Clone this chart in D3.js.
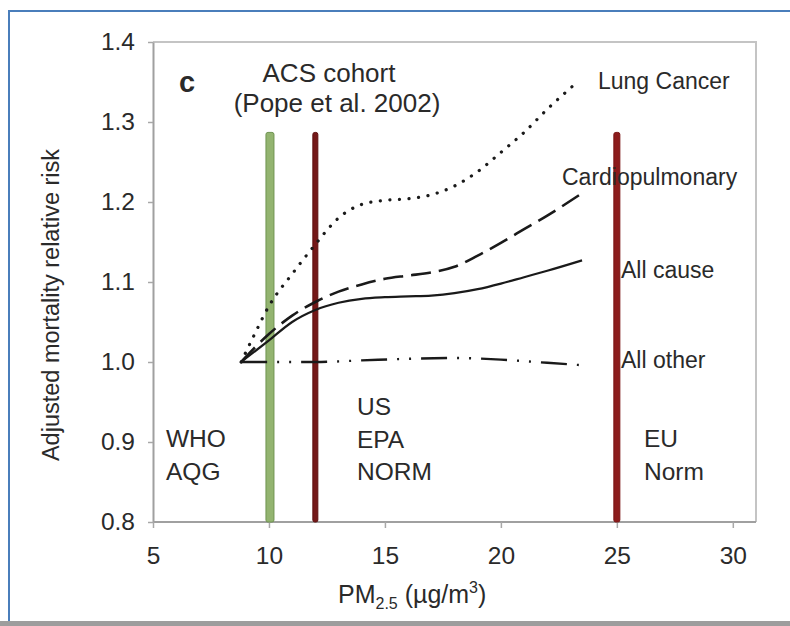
<!DOCTYPE html>
<html>
<head>
<meta charset="utf-8">
<script src="https://cdn.jsdelivr.net/npm/d3@7"></script>
<style>
  html, body { margin: 0; padding: 0; background: #fff; }
  svg { display: block; font-family: "Liberation Sans", Arial, sans-serif; }
</style>
</head>
<body>
<svg id="chart" width="790" height="626"></svg>
<script>
// ---------- data ----------
const xTicks = [5, 10, 15, 20, 25, 30];
const yTicks = [0.8, 0.9, 1.0, 1.1, 1.2, 1.3, 1.4];

const lungCancer = [[8.8,1.0],[9.3,1.03],[10,1.07],[11,1.11],[12,1.147],[13,1.18],[14,1.197],[15,1.202],[16,1.204],[17,1.209],[18,1.22],[19,1.238],[20,1.262],[21,1.287],[22,1.316],[23.3,1.35]];
const cardiopulmonary = [[8.8,1.0],[10,1.035],[11,1.058],[12,1.075],[13,1.088],[14,1.097],[15,1.104],[16,1.108],[17,1.112],[18,1.119],[19,1.133],[20,1.149],[21,1.166],[22,1.183],[23.5,1.211]];
const allCause = [[8.8,1.0],[10,1.027],[11,1.05],[12,1.065],[13,1.074],[14,1.079],[15,1.081],[16,1.082],[17,1.083],[18,1.086],[19,1.091],[20,1.098],[21,1.106],[22,1.114],[23.5,1.127]];
const allOther = [[8.8,1.0],[12,1.0],[14,1.002],[16,1.004],[18,1.005],[20,1.003],[22,0.999],[23.5,0.996]];

const seriesNames = ["Lung Cancer", "Cardiopulmonary", "All cause", "All other"];

// guideline values (PM2.5 limits)
const limitValues = [10, 12, 25];
const limitNames = [["WHO", "AQG"], ["US", "EPA", "NORM"], ["EU", "Norm"]];
const limitTop = 1.287;

// ---------- layout ----------
const svg = d3.select("#chart");
const x = d3.scaleLinear().domain([5, 31]).range([153, 756]);
const y = d3.scaleLinear().domain([0.8, 1.4]).range([522, 42]);
const ink = "#2a2a2a";

// outer frame
svg.append("line").attr("x1", 8).attr("x2", 790).attr("y1", 11).attr("y2", 11)
  .attr("stroke", "#4a7ebb").attr("stroke-width", 2);
svg.append("line").attr("x1", 9).attr("x2", 9).attr("y1", 10).attr("y2", 622)
  .attr("stroke", "#4a7ebb").attr("stroke-width", 2);
svg.append("rect").attr("x", 0).attr("y", 621).attr("width", 790).attr("height", 5)
  .attr("fill", "#9d9d9d");

// plot border (top/right)
svg.append("path")
  .attr("d", `M${x(5)},${y(1.4)}H${x(31)}V${y(0.8)}`)
  .attr("fill", "none").attr("stroke", "#c4c4c4").attr("stroke-width", 2);

// axes
const yAxis = d3.axisLeft(y).tickValues(yTicks).tickFormat(d3.format(".1f")).tickSize(5).tickSizeOuter(0);
const xAxis = d3.axisBottom(x).tickValues(xTicks).tickFormat(d3.format("d")).tickSize(6).tickSizeOuter(0);

const gy = svg.append("g").attr("transform", `translate(${x(5)},0)`).call(yAxis);
const gx = svg.append("g").attr("transform", `translate(0,${y(0.8)})`).call(xAxis);
[gx, gy].forEach(g => {
  g.select(".domain").attr("stroke", "#a0a0a0").attr("stroke-width", 2);
  g.selectAll(".tick line").attr("stroke", "#a8a8a8").attr("stroke-width", 1.5);
  g.selectAll(".tick text").attr("fill", ink).attr("font-size", 24.5)
    .attr("font-family", "Liberation Sans, Arial, sans-serif");
});
gy.selectAll(".tick text").attr("x", -18);
gx.selectAll(".tick text").attr("y", 25);
gx.select(".domain").attr("d", `M${x(5)},0H${x(31)}`);

// axis titles
svg.append("text")
  .attr("transform", `translate(59,305) rotate(-90)`)
  .attr("text-anchor", "middle").attr("font-size", 23.5).attr("fill", ink)
  .text("Adjusted mortality relative risk");

const xt = svg.append("text").attr("x", 338).attr("y", 603)
  .attr("font-size", 25).attr("fill", ink);
xt.append("tspan").text("PM");
xt.append("tspan").attr("font-size", 16).attr("dy", 6).text("2.5");
xt.append("tspan").attr("dy", -6).text(" (\u00B5g/m");
xt.append("tspan").attr("font-size", 16).attr("dy", -10).text("3");
xt.append("tspan").attr("dy", 10).text(")");

// limit bars
const barStyle = [
  { fill: "#93b470", stroke: "#6e9350", w: 8 },
  { fill: "#741818", stroke: "#5e1010", w: 5 },
  { fill: "#8c1c1c", stroke: "#7a1414", w: 6 }
];
svg.append("g").selectAll("rect").data(limitValues).join("rect")
  .attr("x", (d, i) => x(d) - barStyle[i].w / 2 + (i === 0 ? 1 : 0))
  .attr("y", y(limitTop))
  .attr("width", (d, i) => barStyle[i].w)
  .attr("height", y(0.8) - y(limitTop))
  .attr("rx", 2)
  .attr("fill", (d, i) => barStyle[i].fill)
  .attr("stroke", (d, i) => barStyle[i].stroke)
  .attr("stroke-width", 1);

// curves
const line = d3.line().x(d => x(d[0])).y(d => y(d[1])).curve(d3.curveMonotoneX);
const curves = [
  { data: lungCancer, dash: "0.1,9.5", width: 3.2, cap: "round" },
  { data: cardiopulmonary, dash: "20,8", width: 2.6, cap: "butt" },
  { data: allCause, dash: null, width: 2.2, cap: "butt" },
  { data: allOther, dash: "26,10,2,10,2,10", width: 2.4, cap: "butt" }
];
svg.append("g").selectAll("path").data(curves).join("path")
  .attr("d", d => line(d.data))
  .attr("fill", "none")
  .attr("stroke", "#1a1a1a")
  .attr("stroke-width", d => d.width)
  .attr("stroke-linecap", d => d.cap)
  .attr("stroke-dasharray", d => d.dash);

// series labels
const labelPos = [[598, 89], [562, 185], [621, 278], [621, 368]];
svg.append("g").selectAll("text").data(seriesNames).join("text")
  .attr("x", (d, i) => labelPos[i][0]).attr("y", (d, i) => labelPos[i][1])
  .attr("font-size", 23).attr("fill", ink)
  .text(d => d);

// limit labels
const limitLabelPos = [[166, 447], [357, 415], [644, 447]];
limitNames.forEach((names, i) => {
  const t = svg.append("text").attr("x", limitLabelPos[i][0]).attr("y", limitLabelPos[i][1])
    .attr("font-size", 24.5).attr("fill", ink);
  names.forEach((n, j) => t.append("tspan").attr("x", limitLabelPos[i][0]).attr("dy", j === 0 ? 0 : 32.5).text(n));
});

// panel letter and title
svg.append("text").attr("x", 179).attr("y", 92).attr("font-size", 29).attr("font-weight", "bold")
  .attr("fill", ink).text("c");
svg.append("text").attr("x", 329).attr("y", 82).attr("text-anchor", "middle")
  .attr("font-size", 26).attr("fill", ink).text("ACS cohort");
svg.append("text").attr("x", 337).attr("y", 112).attr("text-anchor", "middle")
  .attr("font-size", 26).attr("fill", ink).text("(Pope et al. 2002)");
</script>
</body>
</html>
